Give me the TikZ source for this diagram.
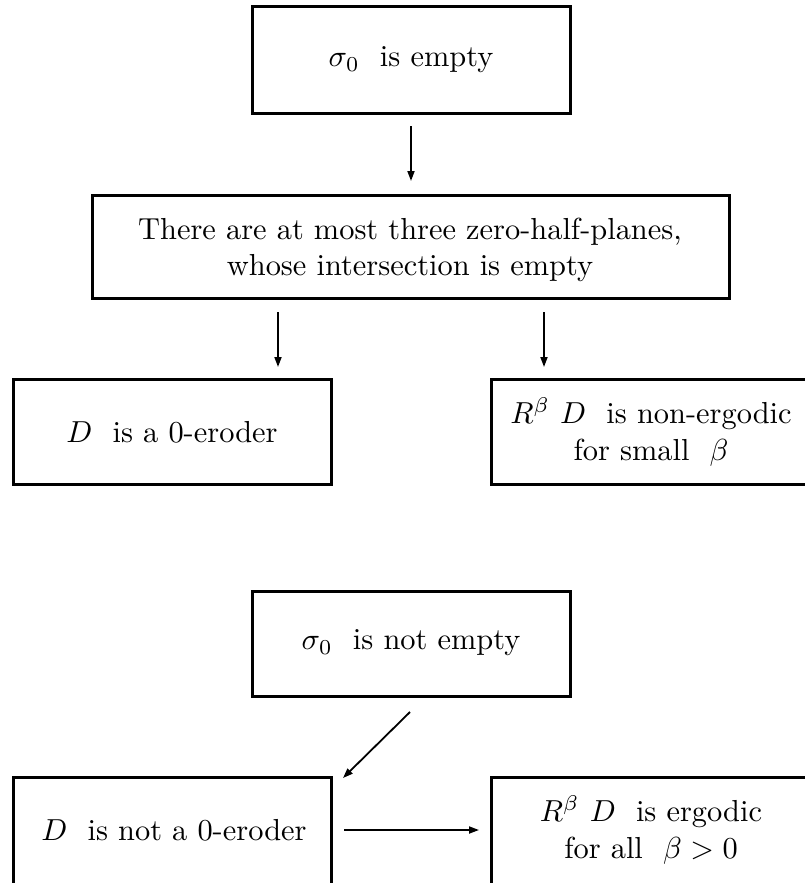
\documentclass[tikz,border=0pt]{standalone}
\usetikzlibrary{arrows.meta}
\begin{document}
\begin{tikzpicture}[x=1pt,y=-1pt,
  boxline/.style={line width=3pt},
  lbl/.style={align=center,font=\fontsize{10}{12}\selectfont,scale=3.04,transform shape},
  arr/.style={line width=1.8pt,-{Stealth[length=10pt,width=7pt,inset=0pt]}}]
\useasboundingbox (0,0) rectangle (805,883);
\begin{scope}
\clip (0,0) rectangle (805,883);
\draw[boxline] (252,7) rectangle (570,113);
\draw[boxline] (92,195) rectangle (729,298);
\draw[boxline] (13,379) rectangle (331,484);
\draw[boxline] (491,379) rectangle (811,484);
\draw[boxline] (252,591) rectangle (570,696);
\draw[boxline] (13,777) rectangle (331,884);
\draw[boxline] (491,777) rectangle (811,884);
\end{scope}
\node[lbl] (b1) at (411,60) {$\sigma_0$\ \ is empty};
\node[lbl] (b2) at (410,250) {There are at most three zero-half-planes,\\whose intersection is empty};
\node[lbl] (b3) at (172,432) {$D$\ \ is a 0-eroder};
\node[lbl] (b4) at (651,432) {$R^\beta\ D$\ \ is non-ergodic\\for small\ \ $\beta$};
\node[lbl] (b5) at (411,643) {$\sigma_0$\ \ is not empty};
\node[lbl] (b6) at (174,830) {$D$\ \ is not a 0-eroder};
\node[lbl] (b7) at (651,830) {$R^\beta\ D$\ \ is ergodic\\for all\ \ $\beta>0$};
\coordinate (a1s) at (411,126); \coordinate (a1e) at (411,181);
\coordinate (a2s) at (278,312); \coordinate (a2e) at (278,367);
\coordinate (a3s) at (544,312); \coordinate (a3e) at (544,367);
\coordinate (a4s) at (410,712); \coordinate (a4e) at (343,778);
\coordinate (a5s) at (344,830); \coordinate (a5e) at (479,830);
\draw[arr] (a1s) -- (a1e);
\draw[arr] (a2s) -- (a2e);
\draw[arr] (a3s) -- (a3e);
\draw[arr] (a4s) -- (a4e);
\draw[arr] (a5s) -- (a5e);
\end{tikzpicture}
\end{document}
